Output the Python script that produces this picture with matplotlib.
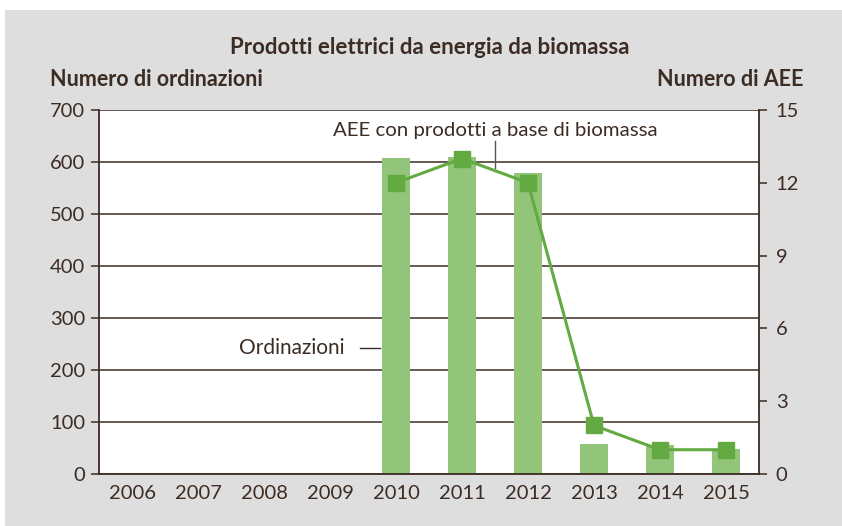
import numpy as np
import matplotlib.pyplot as plt
from matplotlib.patches import Rectangle

years = ['2006', '2007', '2008', '2009', '2010', '2011', '2012', '2013', '2014', '2015']
ordinazioni = [0, 0, 0, 0, 607, 609, 578, 58, 56, 48]
aee_years = ['2010', '2011', '2012', '2013', '2014', '2015']
aee = [12, 13, 12, 2, 1, 1]

txt = '#3b2c24'
bar_col = '#92c57a'
line_col = '#62aa41'
bg = '#dedede'

plt.rcParams['font.family'] = ['Lato', 'DejaVu Sans']

fig = plt.figure(figsize=(8.42, 5.26), dpi=100, facecolor='white')
fig.patches.append(Rectangle((5 / 842, 0), 1, 516 / 526, transform=fig.transFigure,
                             facecolor=bg, edgecolor='none', zorder=-10))

ax = fig.add_axes([99 / 842, 1 - 474 / 526, 660 / 842, 364 / 526])
ax.set_facecolor('white')

x = np.arange(len(years))
ax.bar(x, ordinazioni, width=0.41, color=bar_col, zorder=2)
ax.set_xlim(-0.5, len(years) - 0.5)
ax.set_ylim(0, 700)
ax.set_yticks(range(0, 701, 100))
ax.set_xticks(x)
ax.set_xticklabels(years)
ax.yaxis.grid(True, color=txt, linewidth=1.1, zorder=1)
ax.set_axisbelow(True)
ax.tick_params(axis='x', length=0, pad=8, labelsize=14.5, colors=txt)
ax.tick_params(axis='y', length=6, width=1.1, pad=4, labelsize=14.5, colors=txt)
for s in ['top', 'right']:
    ax.spines[s].set_visible(False)
for s in ['left', 'bottom']:
    ax.spines[s].set_color(txt)
    ax.spines[s].set_linewidth(1.3)

ax2 = ax.twinx()
xi = [years.index(y) for y in aee_years]
ax2.plot(xi, aee, color=line_col, linewidth=2.2, marker='s', markersize=12,
         zorder=5)
ax2.set_ylim(0, 15)
ax2.set_yticks(range(0, 16, 3))
ax2.tick_params(axis='y', length=6, width=1.1, pad=6, labelsize=14.5, colors=txt)
for s in ['top', 'left', 'bottom']:
    ax2.spines[s].set_visible(False)
ax2.spines['right'].set_color(txt)
ax2.spines['right'].set_linewidth(1.3)

# annotations
ax.plot([5.5, 5.5], [588, 640], color='#555555', linewidth=1, zorder=6)
ax.text(5.5, 660, 'AEE con prodotti a base di biomassa', ha='center', va='center',
        fontsize=14.7, color=txt, zorder=6)
ax.plot([3.45, 3.76], [242, 242], color=txt, linewidth=1, zorder=6)
ax.text(3.22, 242, 'Ordinazioni', ha='right', va='center', fontsize=15,
        color=txt, zorder=6)

fig.text(430 / 842, 1 - 47 / 526, 'Prodotti elettrici da energia da biomassa',
         ha='center', va='center', fontsize=16, fontweight='bold', color=txt)
fig.text(50 / 842, 1 - 80 / 526, 'Numero di ordinazioni', ha='left', va='center',
         fontsize=15.5, fontweight='bold', color=txt)
fig.text(803 / 842, 1 - 80 / 526, 'Numero di AEE', ha='right', va='center',
         fontsize=15.5, fontweight='bold', color=txt)

fig.savefig('out.png', dpi=100, facecolor=fig.get_facecolor())
